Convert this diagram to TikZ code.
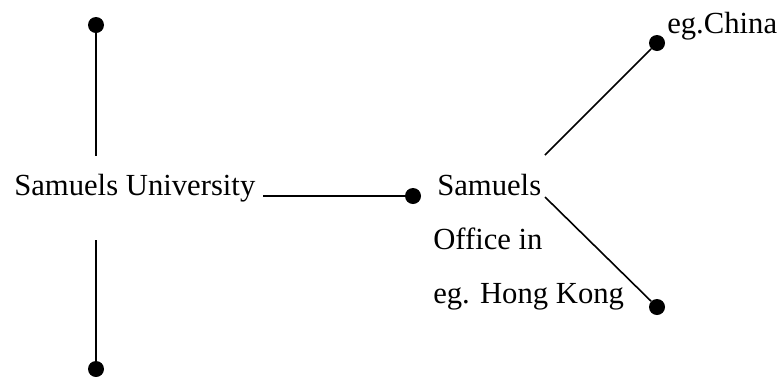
\documentclass[tikz,border=0pt]{standalone}
\usepackage{fontspec}
\setmainfont{Liberation Serif}
\begin{document}
\begin{tikzpicture}[x=0.75pt,y=-0.75pt,
  dot/.style={circle,fill=black,inner sep=0pt,minimum size=12pt},
  label/.style={anchor=base west,inner sep=0pt,font=\fontsize{23}{28}\selectfont},
  link/.style={line width=1.5pt}]
\useasboundingbox (0,0) rectangle (782,376);
% dots
\node[dot] (top) at (96,25) {};
\node[dot] (bottom) at (96,369) {};
\node[dot] (mid) at (413,196) {};
\node[dot] (china) at (657,43) {};
\node[dot] (lower) at (657,307) {};
% free ends of the connectors
\coordinate (topend) at (96,156);
\coordinate (bottomend) at (96,240);
\coordinate (uniend) at (263,196);
\coordinate (upstart) at (545,155);
\coordinate (downstart) at (545,197);
% texts
\node[label] (uni) at (14,195) {Samuels University};
\node[label] (office1) at (437,195) {Samuels};
\node[label] (office2) at (433,249) {Office in};
\node[label] (office3) at (433,303) {eg. Hong Kong};
\node[label] (chinatext) at (667,33) {eg.China};
% connectors
\draw[link] (top) -- (topend);
\draw[link] (bottomend) -- (bottom);
\draw[link] (uniend) -- (mid);
\draw[link,line width=1.2pt] (upstart) -- (china);
\draw[link,line width=1.2pt] (downstart) -- (lower);
\end{tikzpicture}
\end{document}
